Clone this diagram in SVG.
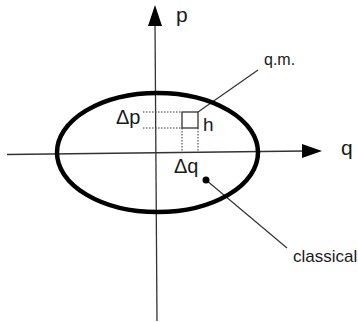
<svg xmlns="http://www.w3.org/2000/svg" width="358" height="322" viewBox="0 0 358 322">
<style>
.t{font-family:"Liberation Sans",Arial,sans-serif;fill:#1a1a1a}
.ax{stroke:#333;stroke-width:1.3;fill:none}
.dot{stroke:#333;stroke-width:1;stroke-dasharray:1.5 1.5;fill:none}
.lead{stroke:#333;stroke-width:1.2;fill:none}
</style>
<rect width="358" height="322" fill="#fff"/>
<g id="connectors">
<line class="ax" x1="157" y1="321" x2="155" y2="22"/>
<polygon points="155,5 148,26 162,26" fill="#000"/>
<line class="ax" x1="7" y1="154.5" x2="305" y2="151"/>
<polygon points="322,151 302,144 302,158" fill="#000"/>
<line class="dot" x1="143" y1="112" x2="182" y2="112"/>
<line class="dot" x1="143" y1="128" x2="182" y2="128"/>
<line class="dot" x1="182" y1="128" x2="182" y2="152"/>
<line class="dot" x1="198" y1="128" x2="198" y2="152"/>
<line class="lead" x1="198" y1="112" x2="258" y2="70"/>
<line class="lead" x1="206" y1="180" x2="287" y2="248"/>
</g>
<g id="ellipse"><ellipse cx="157.5" cy="152.5" rx="100.5" ry="59.5" fill="none" stroke="#000" stroke-width="4.5"/></g>
<g id="square"><rect x="182" y="112" width="16" height="16" fill="none" stroke="#222" stroke-width="1.2"/></g>
<g id="point"><circle cx="206" cy="180" r="3.5" fill="#000"/></g>
<g id="labels">
<text class="t" x="176" y="22" font-size="21">p</text>
<text class="t" x="341" y="155" font-size="21">q</text>
<text class="t" x="116" y="124" font-size="20">Δp</text>
<text class="t" x="203" y="131" font-size="19">h</text>
<text class="t" x="174" y="173" font-size="20">Δq</text>
<text class="t" x="264" y="65" font-size="16">q.m.</text>
<text class="t" x="293" y="262" font-size="17">classical</text>
</g>
</svg>
